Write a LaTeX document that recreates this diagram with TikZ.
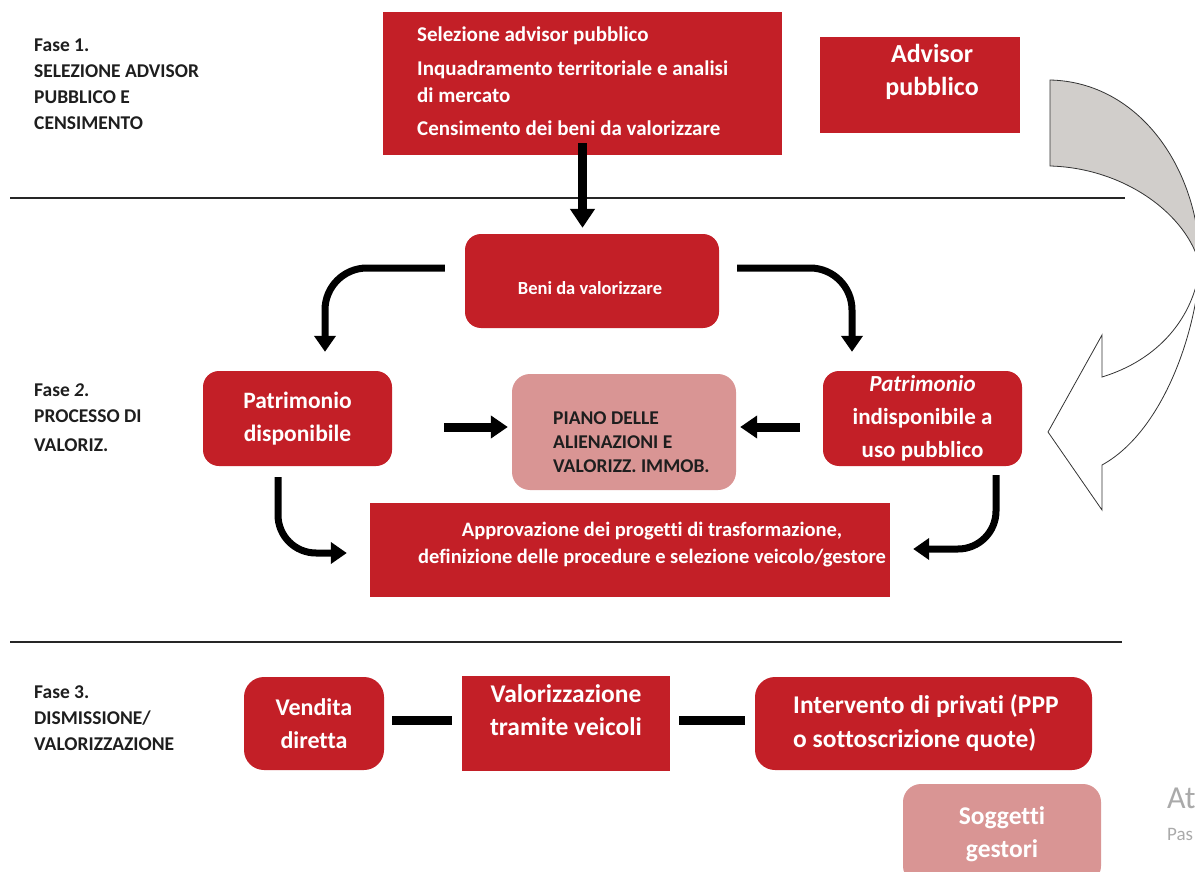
\documentclass[tikz,border=0pt]{standalone}
\usepackage{fontspec}
\setmainfont{Carlito}[Ligatures=CommonOff]
\usetikzlibrary{arrows.meta}
\definecolor{boxred}{RGB}{195,31,39}
\definecolor{boxpink}{RGB}{217,149,148}
\definecolor{bandgray}{RGB}{209,206,203}
\definecolor{labelink}{RGB}{30,30,30}
\definecolor{fadedink}{RGB}{170,170,170}

\begin{document}
\begin{tikzpicture}[x=1pt,y=-1pt,
  redbox/.style={fill=boxred, draw=none, text=white, inner sep=0pt, align=center},
  redround/.style={redbox, rounded corners=16pt},
  pinkround/.style={fill=boxpink, draw=none, rounded corners=18pt, inner sep=0pt, align=center},
  boxtext/.style={text=white, inner sep=0pt, align=center},
  phase/.style={anchor=west, align=left, inner sep=0pt, text=labelink,
    font=\fontsize{19.5}{26}\selectfont\bfseries},
  bigarrow/.style={line width=9pt, -{Triangle[width=24pt,length=19pt]}},
  flatarrow/.style={line width=9pt, -{Triangle[width=22pt,length=17pt]}},
  bendarrow/.style={line width=7pt, rounded corners=42pt, -{Triangle[width=21pt,length=16pt]}},
  link/.style={line width=9pt},
  rule/.style={line width=1.2pt, draw=black!85},
  outline/.style={draw=black!80, line width=0.8pt},
]
\useasboundingbox (0,0) rectangle (1195,872);
\clip (0,0) rectangle (1195,872);

% phase separators
\draw[rule] (10,198) -- (1125,198);
\draw[rule] (10,642) -- (1122,642);

% curved return arrow on the right
\filldraw[fill=bandgray, outline] (1050,80) .. controls (1140,82) and (1200,170) .. (1200,266)
  .. controls (1188,215) and (1125,168) .. (1050,166) -- cycle;
\filldraw[fill=white, outline] (1200,266) .. controls (1196,335) and (1162,432) .. (1102,465)
  -- (1102,510) -- (1048,432) -- (1102,335) -- (1102,377)
  .. controls (1158,360) and (1194,318) .. (1200,266) -- cycle;

% phase labels
\node[phase] (fase1) at (34,84.5) {Fase 1.\\SELEZIONE ADVISOR\\PUBBLICO E\\CENSIMENTO};
\node[phase] (fase2) at (34,417.5) {Fase {\itshape 2}.\\PROCESSO DI\\[3pt]VALORIZ.};
\node[phase] (fase3) at (34,718.5) {Fase 3.\\DISMISSIONE/\\VALORIZZAZIONE};

% phase 1
\node[redbox, minimum width=399pt, minimum height=143pt] (censbox) at (582.5,83.5) {};
\node[boxtext, anchor=west, align=left, font=\fontsize{21}{27}\selectfont\bfseries] (censtext) at (417,81.5)
  {Selezione advisor pubblico\\[7pt]Inquadramento territoriale e analisi\\di mercato\\[6pt]Censimento dei beni da valorizzare};
\node[redbox, minimum width=200pt, minimum height=96pt] (advbox) at (920,85) {};
\node[boxtext, font=\fontsize{26}{33}\selectfont\bfseries] (advtext) at (932,71.5) {Advisor\\pubblico};

% phase 2
\node[redround, minimum width=254pt, minimum height=94pt] (beni) at (592,281) {};
\node[boxtext, font=\fontsize{18.5}{21}\selectfont\bfseries] (benitext) at (590,288) {Beni da valorizzare};

\node[redround, minimum width=189pt, minimum height=95pt, font=\fontsize{23.5}{33}\selectfont\bfseries] (pd) at (297.5,418.5)
  {Patrimonio\\disponibile};
\node[pinkround, minimum width=224pt, minimum height=116pt] (piano) at (624,432) {};
\node[anchor=west, align=left, inner sep=0pt, text=labelink, font=\fontsize{19.5}{24}\selectfont\bfseries] (pianotext) at (553,442)
  {PIANO DELLE\\ALIENAZIONI E\\VALORIZZ. IMMOB.};
\node[redround, minimum width=199pt, minimum height=95pt, font=\fontsize{23}{33}\selectfont\bfseries] (pdi) at (922.5,418.5)
  {{\itshape Patrimonio}\\indisponibile a\\uso pubblico};

\node[redbox, minimum width=520pt, minimum height=94pt] (appr) at (630,550) {};
\node[boxtext, font=\fontsize{20.5}{27}\selectfont\bfseries] (apprtext) at (652,544.5)
  {Approvazione dei progetti di trasformazione,\\definizione delle procedure e selezione veicolo/gestore};

% phase 3
\node[redround, rounded corners=20pt, minimum width=140pt, minimum height=93pt, font=\fontsize{24}{33}\selectfont\bfseries] (vend) at (314,723.5)
  {Vendita\\diretta};
\node[redbox, minimum width=208pt, minimum height=95pt] (veic) at (566,723.5) {};
\node[boxtext, font=\fontsize{25.5}{33}\selectfont\bfseries] (veictext) at (566,710.5) {Valorizzazione\\tramite veicoli};
\node[redround, rounded corners=20pt, minimum width=337pt, minimum height=93pt] (priv) at (923.5,723.5) {};
\node[boxtext, anchor=west, align=left, font=\fontsize{25.5}{34}\selectfont\bfseries] (privtext) at (793,723)
  {Intervento di privati (PPP\\o sottoscrizione quote)};
\node[pinkround, text=white, minimum width=198pt, minimum height=100pt, font=\fontsize{25.5}{33}\selectfont\bfseries] (sogg) at (1002,834)
  {Soggetti\\gestori};

\node[anchor=base west, inner sep=0pt, text=fadedink, font=\fontsize{32}{32}\selectfont] (attext) at (1167,808) {At};
\node[anchor=base west, inner sep=0pt, text=fadedink, font=\fontsize{19}{19}\selectfont] (pastext) at (1167,840) {Pas};

% connectors
\draw[bigarrow, shorten >=6pt] ([yshift=12]censbox.south) -- (censbox.south |- beni.north);
\draw[bendarrow] ([shift={(-20,-13)}]beni.west) -| ([shift={(27.5,-19)}]pd.north);
\draw[bendarrow] ([shift={(18,-13)}]beni.east) -| ([shift={(-70.5,-19)}]pdi.north);
\draw[flatarrow] ([shift={(52,8.5)}]pd.east) -- ([shift={(-4,-5)}]piano.west);
\draw[flatarrow] ([shift={(-23,8.5)}]pdi.west) -- ([shift={(4,-5)}]piano.east);
\draw[bendarrow, rounded corners=38pt] ([shift={(-19.5,11)}]pd.south) |- ([shift={(-23,3)}]appr.west);
\draw[bendarrow, rounded corners=38pt] ([shift={(73.5,9)}]pdi.south) |- ([shift={(23,-1)}]appr.east);
\draw[link] ([shift={(8,-3)}]vend.east) -- ([shift={(-10,-3)}]veic.west);
\draw[link] ([shift={(9,-3)}]veic.east) -- ([shift={(-10,-3)}]priv.west);
\end{tikzpicture}
\end{document}
